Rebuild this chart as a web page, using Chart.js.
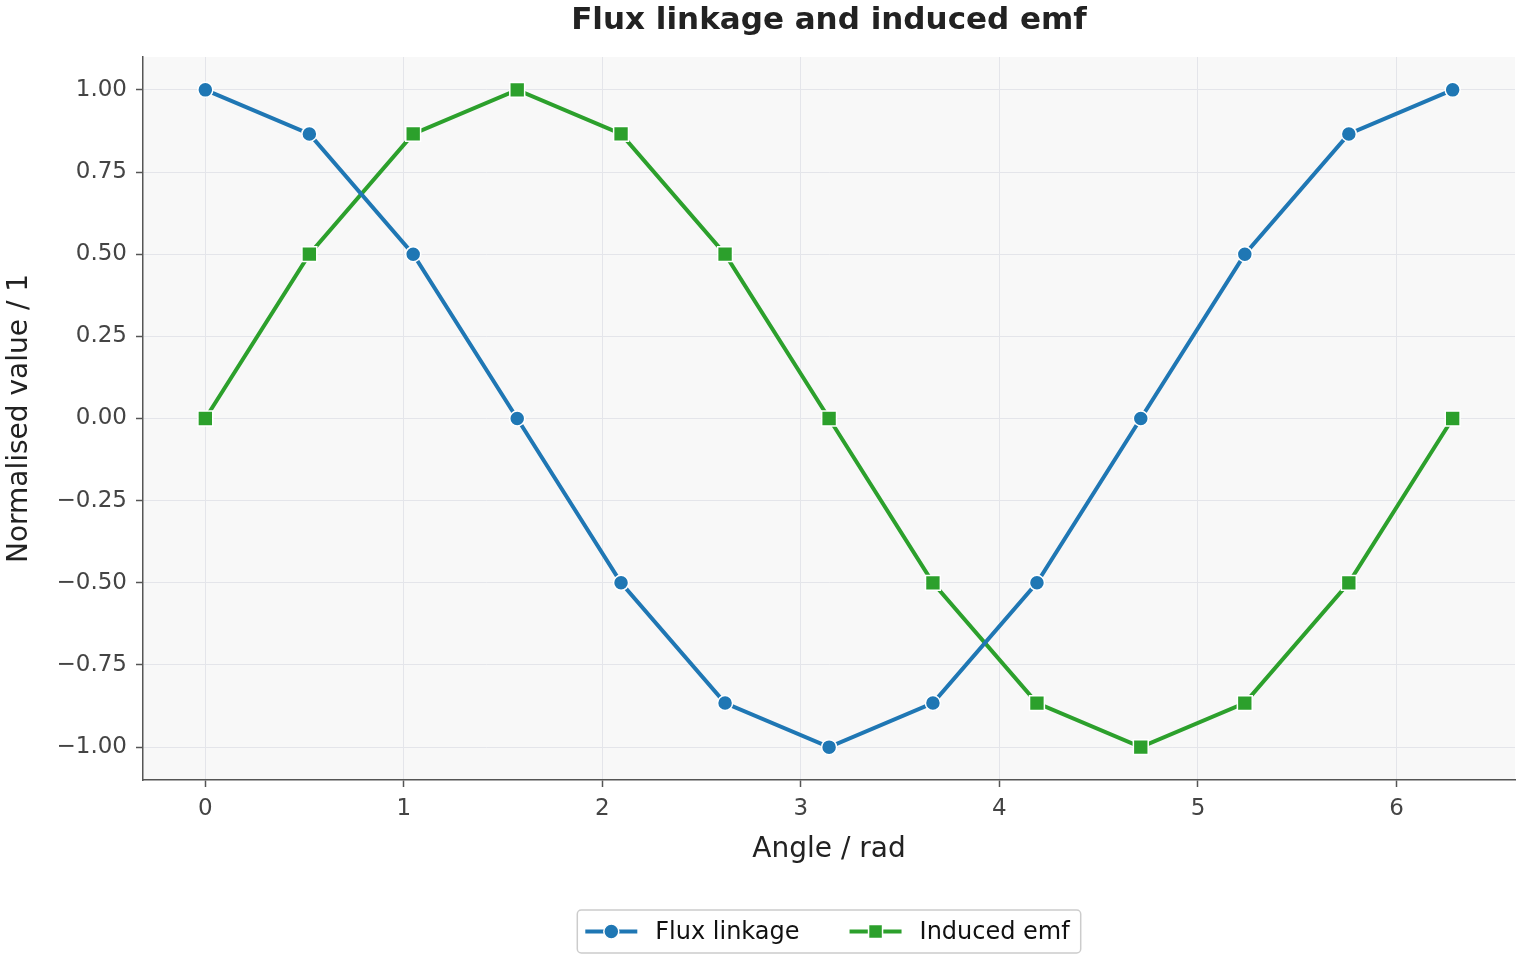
<!DOCTYPE html>
<html>
<head>
<meta charset="utf-8">
<script src="https://cdn.jsdelivr.net/npm/chart.js@4.4.1/dist/chart.umd.min.js"></script>
<style>
  html, body { margin: 0; padding: 0; background: #fff; }
  #wrap { width: 1520px; height: 960px; }
</style>
</head>
<body>
<div id="wrap"><canvas id="grafico" width="1520" height="960"></canvas></div>
<script>
// angles (rad) and the two curves
const angulos = [0, 0.524, 1.047, 1.571, 2.094, 2.618, 3.142, 3.665, 4.189, 4.712, 5.236, 5.760, 6.283];
const fluxo = [1.00, 0.866, 0.50, 0.00, -0.50, -0.866, -1.00, -0.866, -0.50, 0.00, 0.50, 0.866, 1.00];
const fem = [0.00, 0.50, 0.866, 1.00, 0.866, 0.50, 0.00, -0.50, -0.866, -1.00, -0.866, -0.50, 0.00];
const ticksX = [0, 1, 2, 3, 4, 5, 6];
const ticksY = [-1.00, -0.75, -0.50, -0.25, 0.00, 0.25, 0.50, 0.75, 1.00];

const fonte = "'DejaVu Sans', 'Liberation Sans', sans-serif";
const menos = s => String(s).replace("-", "\u2212");

// fundo da area, titulo e legenda com moldura
const extras = {
  id: "extras",
  beforeDraw(chart) {
    const {ctx, chartArea: a} = chart;
    ctx.save();
    ctx.fillStyle = "#f8f8f8";
    ctx.fillRect(a.left, a.top, a.right - a.left, a.bottom - a.top);
    ctx.restore();
  },
  afterDraw(chart) {
    const {ctx, chartArea: a} = chart;
    const cx = (a.left + a.right) / 2;
    ctx.save();
    ctx.fillStyle = "#222";
    ctx.font = "bold 31px " + fonte;
    ctx.textAlign = "center";
    ctx.textBaseline = "middle";
    ctx.fillText("Flux linkage and induced emf", cx, 21);

    // legenda
    ctx.font = "24px " + fonte;
    const sets = chart.data.datasets;
    const larg = sets.map(d => ctx.measureText(d.label).width);
    const total = 8 + sets.length * (52 + 18) + larg.reduce((p, c) => p + c, 0) + 50 * (sets.length - 1) + 11;
    const bx = cx - total / 2, by = 910, bh = 43;
    ctx.beginPath();
    ctx.roundRect(bx, by, total, bh, 4);
    ctx.fillStyle = "rgba(255,255,255,0.9)";
    ctx.fill();
    ctx.strokeStyle = "#cccccc";
    ctx.lineWidth = 1.5;
    ctx.stroke();
    let x = bx + 8;
    const y = by + bh / 2;
    sets.forEach((d, i) => {
      ctx.strokeStyle = d.borderColor;
      ctx.lineWidth = 4;
      ctx.beginPath();
      ctx.moveTo(x, y);
      ctx.lineTo(x + 52, y);
      ctx.stroke();
      ctx.fillStyle = d.backgroundColor;
      ctx.strokeStyle = "#fff";
      ctx.lineWidth = 1.5;
      ctx.beginPath();
      if (d.pointStyle === "rect") ctx.rect(x + 26 - 7, y - 7, 14, 14);
      else ctx.arc(x + 26, y, 7.5, 0, Math.PI * 2);
      ctx.fill();
      ctx.stroke();
      ctx.fillStyle = "#111";
      ctx.textAlign = "left";
      ctx.textBaseline = "middle";
      ctx.fillText(d.label, x + 52 + 18, y + 1);
      x += 52 + 18 + larg[i] + 50;
    });
    ctx.restore();
  }
};

const pontos = serie => angulos.map((a, i) => ({x: a, y: serie[i]}));

new Chart(document.getElementById("grafico"), {
  type: "line",
  data: {
    datasets: [
      {
        label: "Flux linkage",
        data: pontos(fluxo),
        borderColor: "#1f77b4",
        backgroundColor: "#1f77b4",
        borderWidth: 4,
        pointStyle: "circle",
        pointRadius: 7.5,
        pointBorderColor: "#fff",
        pointBorderWidth: 1.5,
        tension: 0
      },
      {
        label: "Induced emf",
        data: pontos(fem),
        borderColor: "#2ca02c",
        backgroundColor: "#2ca02c",
        borderWidth: 4,
        pointStyle: "rect",
        pointRadius: 10.5,
        pointBorderColor: "#fff",
        pointBorderWidth: 1.5,
        tension: 0
      }
    ]
  },
  options: {
    responsive: false,
    animation: false,
    layout: { autoPadding: false, padding: { top: 57, right: 5, bottom: 80, left: 0 } },
    plugins: { legend: { display: false }, title: { display: false }, tooltip: { enabled: false } },
    scales: {
      x: {
        type: "linear",
        min: -0.314,
        max: 6.597,
        afterFit: s => { s.height = 100; s.paddingLeft = 0; s.paddingRight = 0; },
        afterBuildTicks: s => { s.ticks = ticksX.map(v => ({value: v})); },
        ticks: { color: "#444", font: { family: fonte, size: 23 }, padding: 8,
                 callback: v => menos(v) },
        grid: { color: "#e4e5ea", lineWidth: 1, tickLength: 7, tickColor: "#555", tickWidth: 1.5 },
        border: { color: "#555", width: 1.5 },
        title: { display: true, text: "Angle / rad", color: "#222",
                 font: { family: fonte, size: 28 }, padding: { top: 0, bottom: 13 } }
      },
      y: {
        min: -1.1,
        max: 1.1,
        afterFit: s => { s.width = 143; s.paddingTop = 0; s.paddingBottom = 0; },
        afterBuildTicks: s => { s.ticks = ticksY.map(v => ({value: v})); },
        ticks: { color: "#444", font: { family: fonte, size: 23 }, padding: 9,
                 callback: v => menos(Number(v).toFixed(2)) },
        grid: { color: "#e4e5ea", lineWidth: 1, tickLength: 7, tickColor: "#555", tickWidth: 1.5 },
        border: { color: "#555", width: 1.5 },
        title: { display: true, text: "Normalised value / 1", color: "#222",
                 font: { family: fonte, size: 28 }, padding: { top: 3, bottom: 0 } }
      }
    }
  },
  plugins: [extras]
});
</script>
</body>
</html>
